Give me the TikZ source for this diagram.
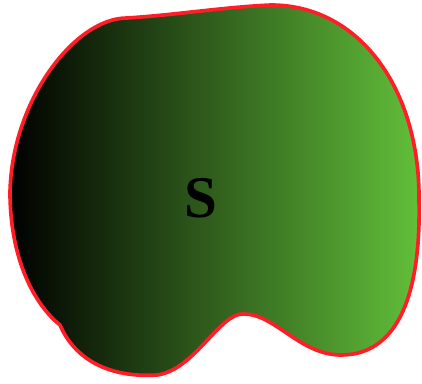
\documentclass[tikz,border=0pt]{standalone}
\usepackage{fontspec}
\setmainfont{Liberation Serif}
\definecolor{blobgreen}{RGB}{98,192,58}
\definecolor{blobred}{RGB}{255,30,40}

\begin{document}
\begin{tikzpicture}[
  x=0.025cm, y=-0.025cm,
  blob/.style={draw=blobred, line width=2.6pt, shading=axis,
    left color=black, right color=blobgreen},
  lbl/.style={font=\fontsize{42}{42}\selectfont\bfseries}
]
  \useasboundingbox (0,0) rectangle (422,383);
  % outline of the set
  \path[blob] (127,18) .. controls (175,15) and (225,7) .. (271,5)
    .. controls (360,5) and (420,90) .. (419,200)
    .. controls (421,290) and (400,355) .. (341,355)
    .. controls (300,355) and (275,314) .. (244,314)
    .. controls (220,312) and (195,370) .. (157,375)
    .. controls (110,378) and (75,360) .. (60,325)
    .. controls (35,305) and (10,260) .. (10,192)
    .. controls (12,100) and (75,18) .. cycle;
  \node[lbl] (s) at (201,198) {S};
\end{tikzpicture}
\end{document}
